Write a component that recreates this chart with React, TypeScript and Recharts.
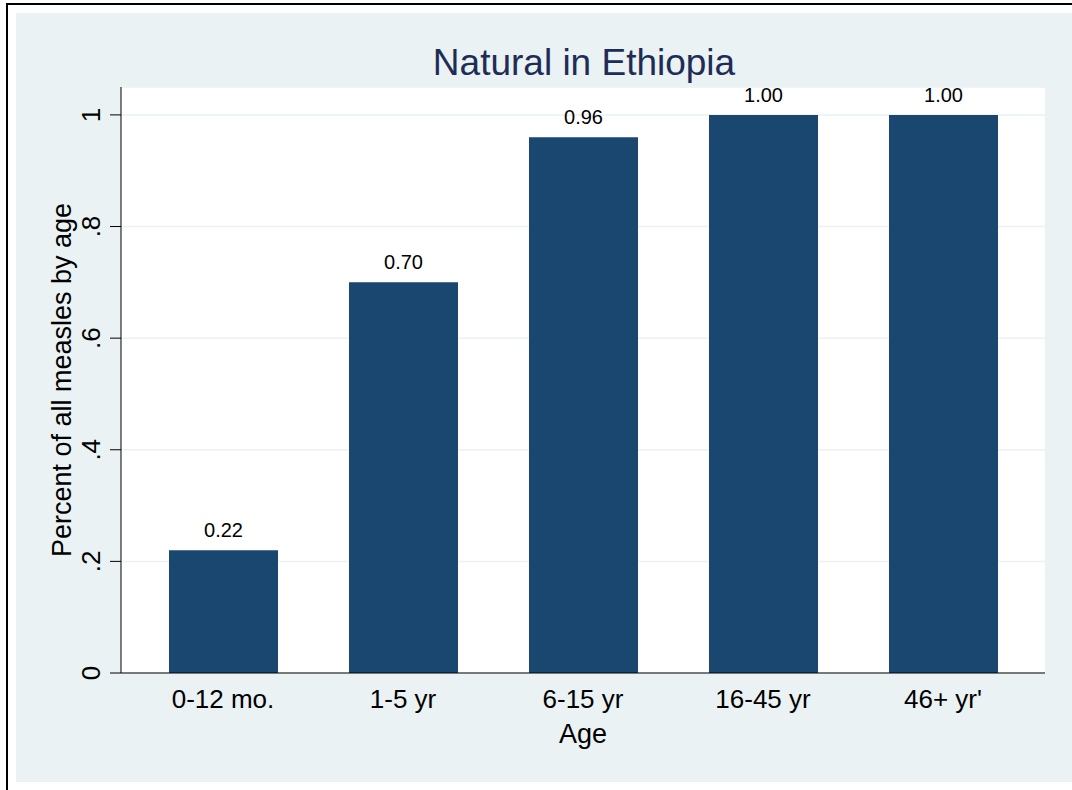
import React from 'react';
import { BarChart, Bar, XAxis, YAxis, CartesianGrid, LabelList } from 'recharts';

const categories = ['0-12 mo.', '1-5 yr', '6-15 yr', '16-45 yr', "46+ yr'"];
const shares = [0.22, 0.7, 0.96, 1.0, 1.0];
const valueLabels = ['0.22', '0.70', '0.96', '1.00', '1.00'];
const yTicks = [0, 0.2, 0.4, 0.6, 0.8, 1];
const yTickLabels = ['0', '.2', '.4', '.6', '.8', '1'];

const TITLE = 'Natural in Ethiopia';
const Y_TITLE = 'Percent of all measles by age';
const X_TITLE = 'Age';

const data = categories.map((c, i) => ({ category: c, share: shares[i], label: valueLabels[i] }));

const FONT = '"Liberation Sans", Arial, Helvetica, sans-serif';
const PANEL = '#EAF2F3';
const NAVY = '#1A476F';
const TITLE_COLOR = '#1E2D57';

const YTick = (props: any) => {
  const { x, y, payload } = props;
  const idx = yTicks.indexOf(payload.value);
  const txt = idx >= 0 ? yTickLabels[idx] : String(payload.value);
  return (
    <text x={x} y={y} transform={`rotate(-90, ${x}, ${y})`} textAnchor="middle" fontSize={26} fill="#000" fontFamily={FONT}>
      {txt}
    </text>
  );
};

const XTick = (props: any) => {
  const { x, y, payload } = props;
  return (
    <text x={x} y={y + 27} textAnchor="middle" fontSize={26} fill="#000" fontFamily={FONT}>
      {payload.value}
    </text>
  );
};

export default function App() {
  return (
    <div style={{ position: 'fixed', left: 0, top: 0, width: 1072, height: 790, background: '#fff', overflow: 'hidden', fontFamily: FONT }}>
      <div style={{ position: 'absolute', left: 6, top: 3, width: 1200, height: 900, borderLeft: '2px solid #000', borderTop: '2px solid #000' }} />
      <div style={{ position: 'absolute', left: 16, top: 13, width: 1056, height: 769, background: PANEL }} />
      <div style={{ position: 'absolute', left: 0, top: 0 }}>
        <BarChart
          width={1072}
          height={790}
          data={data}
          margin={{ top: 87, right: 27, bottom: 87, left: 61 }}
          style={{ fontFamily: FONT }}
        >
          <CartesianGrid vertical={false} stroke={PANEL} strokeWidth={1.5} fill="#fff" />
          <XAxis
            dataKey="category"
            height={30}
            padding={{ left: 12, right: 12 }}
            tickLine={false}
            axisLine={{ stroke: '#000', strokeWidth: 1 }}
            tick={<XTick />}
            interval={0}
            label={{
              value: X_TITLE,
              content: (p: any) => {
                const vb = p.viewBox;
                return (
                  <text x={vb.x + vb.width / 2} y={vb.y + 70} textAnchor="middle" fontSize={27} fill="#000" fontFamily={FONT}>
                    {X_TITLE}
                  </text>
                );
              },
            }}
          />
          <YAxis
            width={60}
            domain={[0, 1.05]}
            ticks={yTicks}
            tickSize={11}
            tickMargin={10}
            tickLine={{ stroke: '#000', strokeWidth: 1 }}
            axisLine={{ stroke: '#000', strokeWidth: 1 }}
            tick={<YTick />}
            interval={0}
            label={{
              value: Y_TITLE,
              content: (p: any) => {
                const vb = p.viewBox;
                const cx = vb.x + 10;
                const cy = vb.y + vb.height / 2;
                return (
                  <text x={cx} y={cy} transform={`rotate(-90, ${cx}, ${cy})`} textAnchor="middle" fontSize={27} fill="#000" fontFamily={FONT}>
                    {Y_TITLE}
                  </text>
                );
              },
            }}
          />
          <Bar dataKey="share" fill={NAVY} barSize={109} isAnimationActive={false}>
            <LabelList dataKey="label" position="top" offset={13} fontSize={20} fill="#000" fontFamily={FONT} />
          </Bar>
        </BarChart>
      </div>
      <svg style={{ position: 'absolute', left: 0, top: 0, pointerEvents: 'none' }} width={1072} height={790}>
        <text x={584} y={75} textAnchor="middle" fontSize={37} fill={TITLE_COLOR} fontFamily={FONT}>
          {TITLE}
        </text>
      </svg>
    </div>
  );
}
